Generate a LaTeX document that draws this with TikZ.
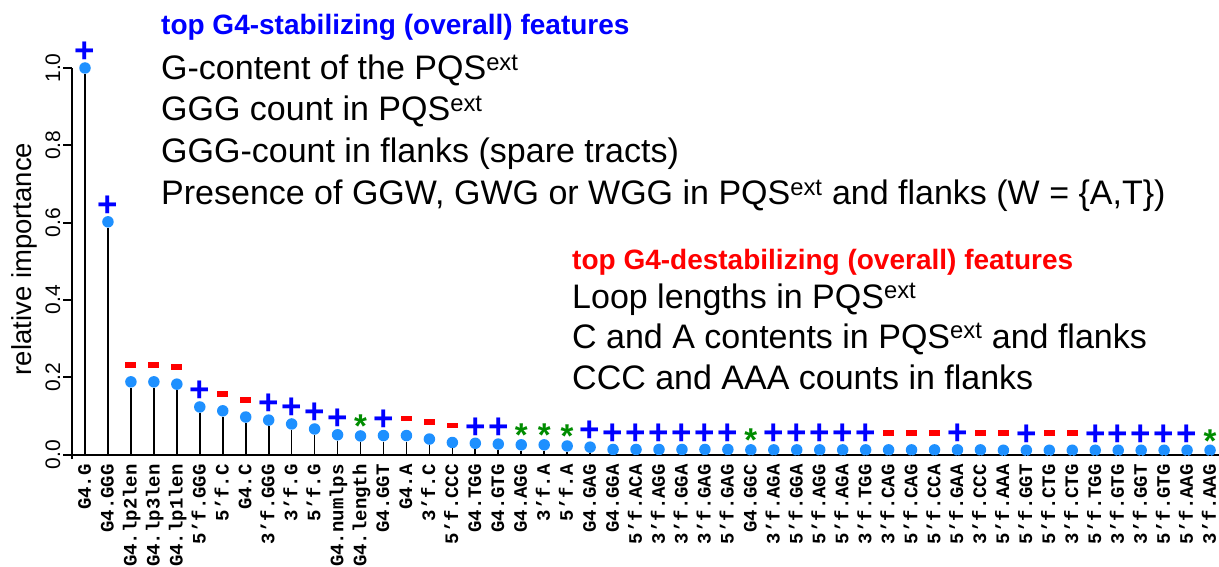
\documentclass[tikz,border=0pt]{standalone}
\usepackage{fontspec}
\setmainfont{Liberation Sans}
\newfontfamily\labmono{Liberation Mono}
\definecolor{dotblue}{RGB}{30,144,255}
\definecolor{stargreen}{RGB}{0,140,0}
\tikzset{
  axisline/.style={line width=2pt},
  stem/.style={line width=1.7pt},
  dot/.style={circle,fill=dotblue,inner sep=0pt,minimum size=11.5pt},
  lab/.style={rotate=90,anchor=east,inner sep=0pt,text height=11.5pt,text depth=0pt,
    font=\fontsize{19}{19}\selectfont\labmono\bfseries},
  tick/.style={rotate=90,inner sep=0pt,font=\fontsize{21}{21}\selectfont},
  mkp/.style={text=blue,inner sep=0pt,yshift=-1.5pt,
    font=\fontsize{35}{35}\selectfont\bfseries,node contents={+}},
  mks/.style={text=stargreen,inner sep=0pt,yshift=-7.5pt,
    font=\fontsize{33}{33}\selectfont\bfseries,node contents={*}},
  mkm/.style={fill=red,inner sep=0pt,minimum width=11pt,minimum height=5.5pt,node contents={}},
  head/.style={anchor=base west,inner sep=0pt,font=\fontsize{28}{28}\selectfont\bfseries},
  feat/.style={anchor=base west,inner sep=0pt,font=\fontsize{34}{34}\selectfont}
}
\begin{document}
\begin{tikzpicture}[x=1pt,y=1pt]
\useasboundingbox (0,0) rectangle (1219,566);
% axes
\draw[axisline] (72,107)--(72,498);
\draw[axisline] (63,111.5)--(1219,111.5);
\foreach \tk [count=\j] in {0.0,0.2,0.4,0.6,0.8,1.0}{
  \draw[axisline] (72,111.5+\tk*386.5)--++(-9,0);
  \node[tick] (t\j) at (53,111.5+\tk*386.5) {\tk};
}
\node[rotate=90,font=\fontsize{27.5}{28}\selectfont] (ylab) at (24,307) {relative importance};
% importance values, sign marker, feature name
\foreach \val/\mk/\lbl [count=\i] in {
  1.000/p/G4.G, 0.602/p/G4.GGG, 0.188/m/G4.lp2len, 0.188/m/G4.lp3len,
  0.182/m/G4.lp1len, 0.123/p/5’f.GGG, 0.113/m/5’f.C, 0.097/m/G4.C,
  0.089/p/3’f.GGG, 0.079/p/3’f.G, 0.066/p/5’f.G, 0.051/p/G4.numlps,
  0.048/s/G4.length, 0.049/p/G4.GGT, 0.049/m/G4.A, 0.040/m/3’f.C,
  0.031/m/5’f.CCC, 0.029/p/G4.TGG, 0.027/p/G4.GTG, 0.025/s/G4.AGG,
  0.025/s/3’f.A, 0.022/s/5’f.A, 0.019/p/G4.GAG, 0.013/p/G4.GGA,
  0.013/p/5’f.ACA, 0.013/p/3’f.AGG, 0.013/p/3’f.GGA, 0.013/p/3’f.GAG,
  0.013/p/5’f.GAG, 0.012/s/G4.GGC, 0.012/p/3’f.AGA, 0.012/p/5’f.GGA,
  0.012/p/5’f.AGG, 0.012/p/5’f.AGA, 0.012/p/3’f.TGG, 0.012/m/3’f.CAG,
  0.012/m/5’f.CAG, 0.012/m/5’f.CCA, 0.012/p/5’f.GAA, 0.012/m/3’f.CCC,
  0.011/m/5’f.AAA, 0.011/p/5’f.GGT, 0.011/m/5’f.CTG, 0.011/m/3’f.CTG,
  0.011/p/5’f.TGG, 0.011/p/3’f.GTG, 0.011/p/3’f.GGT, 0.011/p/5’f.GTG,
  0.011/p/5’f.AAG, 0.011/s/3’f.AAG}{
  \pgfmathsetmacro{\px}{85+(\i-1)*22.96}
  \pgfmathsetmacro{\py}{111.5+\val*386.5}
  \coordinate (b\i) at (\px,111.5);
  \node[dot] (d\i) at (\px,\py) {};
  \draw[stem] (b\i)--(d\i);
  \node (m\i) at (\px,\py+17) [mk\mk];
  \node[lab] (l\i) at (\px,102) {\lbl};
}
% legend texts
\node[head,text=blue] (stab) at (161,531) {top G4-stabilizing (overall) features};
\node[feat] (s1) at (161,486) {G-content of the PQS\textsuperscript{ext}};
\node[feat] (s2) at (161,445) {GGG count in PQS\textsuperscript{ext}};
\node[feat] (s3) at (161,403) {GGG-count in flanks (spare tracts)};
\node[feat] (s4) at (161,361) {Presence of GGW, GWG or WGG in PQS\textsuperscript{ext} and flanks (W = \{A,T\})};
\node[head,text=red] (destab) at (572,296) {top G4-destabilizing (overall) features};
\node[feat] (u1) at (572,258) {Loop lengths in PQS\textsuperscript{ext}};
\node[feat] (u2) at (572,218) {C and A contents in PQS\textsuperscript{ext} and flanks};
\node[feat] (u3) at (572,177) {CCC and AAA counts in flanks};
\end{tikzpicture}
\end{document}
